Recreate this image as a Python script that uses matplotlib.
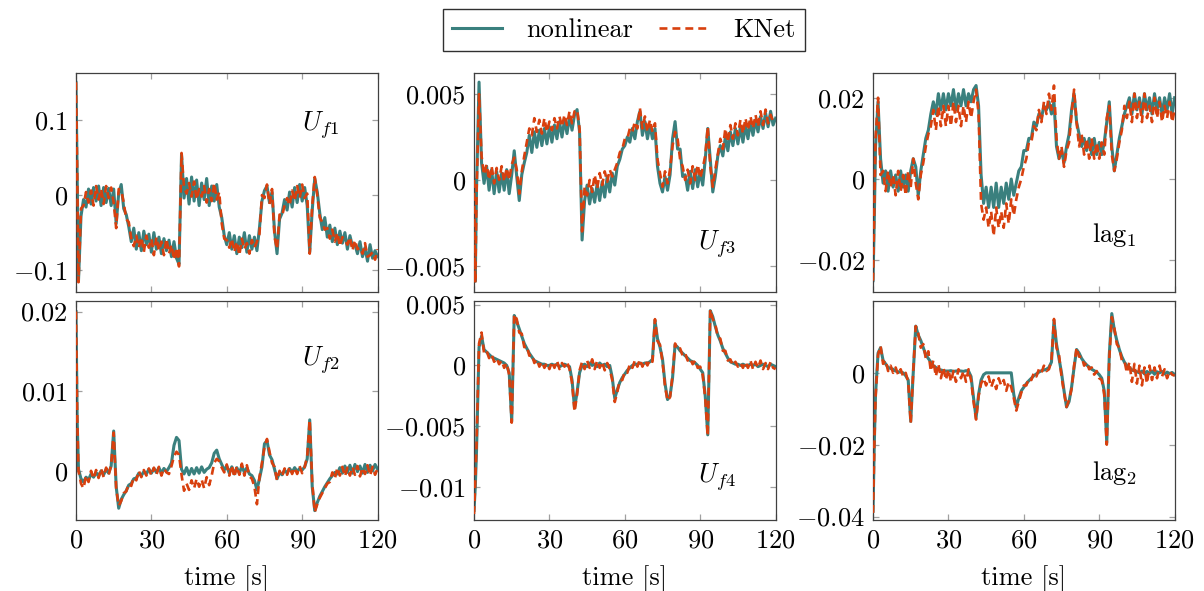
import numpy as np
import matplotlib
matplotlib.use("Agg")
import matplotlib.pyplot as plt
from matplotlib.lines import Line2D

plt.rcParams["font.family"] = "cmr10"
plt.rcParams["mathtext.fontset"] = "cm"
plt.rcParams["axes.unicode_minus"] = False

# time grid [s]
time = np.array([0.0, 0.5] + list(range(1, 121)), dtype=float)

# U_f1 (units of 1e-3)
uf1_nonlinear = np.array([
    150, 20,
    -114, -28, -6, -16, 8, -12, 10, -8, 12, -14,
    10, -10, 9, -14, 8, -38, 2, 14, -18, -26,
    -42, -62, -44, -72, -50, -74, -48, -66, -52, -76,
    -50, -72, -56, -78, -58, -74, -60, -82, -62, -84,
    -92, 54, -4, 22, -12, 24, -8, 20, -14, 16,
    -6, 22, -14, 12, -8, 14, -16, -30, -54, -66,
    -50, -72, -54, -78, -56, -70, -50, -76, -54, -72,
    -56, -74, -44, -8, 6, 12, -10, 4, -48, -78,
    -32, -24, -6, -20, 4, -16, 10, -10, 14, -8,
    10, -14, -76, -20, 22, 4, -24, -46, -30, -56,
    -40, -62, -44, -66, -48, -64, -50, -72, -54, -68,
    -66, -78, -62, -82, -70, -88, -66, -84, -74, -82]) * 1e-3
uf1_knet = np.array([
    150, 30,
    -116, -18, -14, 4, -10, 6, -14, 12, -6, 8,
    -12, 12, -4, 10, -10, -44, 8, 6, -10, -32,
    -36, -58, -68, -54, -70, -56, -76, -54, -70, -58,
    -80, -56, -74, -62, -80, -58, -78, -66, -86, -70,
    -95, 56, 10, 2, 16, -2, 18, -6, 8, -2,
    12, -10, 8, -8, 16, -6, 4, -38, -58, -60,
    -70, -58, -76, -62, -80, -58, -72, -64, -78, -60,
    -70, -62, -52, 0, -4, 14, -12, 8, -56, -72,
    -26, -28, -14, -4, -14, 6, -8, 12, -4, 14,
    -4, 2, -78, -14, 24, 0, -30, -36, -46, -44,
    -58, -46, -62, -50, -68, -56, -60, -66, -56, -74,
    -60, -72, -70, -78, -64, -82, -80, -76, -86, -72]) * 1e-3

# U_f3 (units of 1e-4)
uf3_nonlinear = np.array([
    0, -59,
    -5, 57, 10, -2, 8, -6, 6, -8, 5, -7,
    4, -6, 6, -8, 3, 17, 2, -12, 3, 10,
    16, 26, 16, 28, 19, 29, 20, 30, 21, 31,
    22, 32, 24, 34, 25, 35, 27, 37, 29, 38,
    41, 28, -35, -12, -3, -14, -5, -13, -2, -12,
    -1, -10, 2, -7, 4, -3, 8, 12, 18, 20,
    25, 22, 30, 24, 34, 40, 26, 34, 24, 32,
    24, 30, 8, -2, -7, 2, -6, 3, 24, 34,
    18, 18, 2, 3, -6, 5, -5, 6, -4, 5,
    -3, 12, 30, 12, -7, 2, 14, 20, 14, 25,
    17, 28, 20, 30, 21, 31, 22, 32, 24, 34,
    26, 35, 28, 37, 30, 39, 31, 40, 32, 36]) * 1e-4
uf3_knet = np.array([
    0, -60,
    -8, 50, 14, 3, 9, 0, 8, -2, 7, 0,
    8, -1, 7, 0, 9, 13, 6, -8, 5, 14,
    22, 30, 26, 36, 28, 35, 27, 36, 28, 34,
    29, 36, 30, 37, 31, 38, 32, 40, 33, 40,
    41, 30, -30, -4, -9, 0, -7, 3, -5, 4,
    -3, 5, -1, 6, 2, 6, 10, 16, 18, 24,
    24, 30, 28, 34, 30, 42, 30, 37, 28, 35,
    28, 33, 12, 4, -4, 5, -2, 6, 20, 28,
    24, 12, 8, 0, 6, -2, 8, 0, 9, 1,
    7, 14, 31, 8, -4, 6, 15, 24, 18, 30,
    22, 32, 24, 33, 26, 35, 27, 36, 29, 37,
    30, 38, 31, 40, 32, 41, 33, 38, 34, 35]) * 1e-4

# lag_1 (units of 1e-3)
lag1_nonlinear = np.array([
    -25, -10,
    8, 19, 5, -1, 2, -3, 2, -2, 1, -3,
    2, -2, 1, -3, 2, 5, 3, -4, 2, 6,
    10, 12, 16, 19, 16, 21, 17, 21, 17, 21,
    18, 22, 17, 21, 18, 22, 18, 21, 19, 22,
    23, 18, 1, -6, -2, -7, -2, -7, -1, -7,
    -2, -6, -1, -5, 0, -4, -1, 2, 3, 7,
    7, 10, 10, 14, 13, 16, 15, 18, 17, 19,
    16, 19, 8, 5, 7, 4, 8, 11, 17, 21,
    14, 11, 8, 10, 7, 10, 6, 10, 6, 9,
    6, 9, 14, 19, 8, 2, 6, 10, 13, 16,
    18, 20, 16, 21, 17, 20, 16, 21, 17, 20,
    16, 21, 17, 20, 16, 20, 17, 21, 16, 20]) * 1e-3
lag1_knet = np.array([
    -25, -8,
    10, 20, 1, 2, -3, 2, -2, 1, -4, 2,
    -3, 1, -4, 2, -2, 5, -1, -5, 1, 4,
    8, 11, 13, 17, 12, 18, 13, 18, 13, 18,
    13, 19, 14, 18, 13, 18, 14, 19, 15, 19,
    22, 16, -6, -10, -7, -12, -8, -14, -7, -12,
    -8, -12, -6, -11, -5, -9, -5, -2, 0, 3,
    5, 9, 9, 13, 12, 17, 14, 19, 16, 21,
    17, 23, 10, 5, 8, 3, 7, 9, 16, 22,
    14, 8, 11, 6, 10, 5, 10, 5, 9, 5,
    9, 6, 15, 18, 6, 2, 5, 9, 12, 18,
    15, 19, 14, 21, 15, 19, 14, 21, 15, 18,
    14, 20, 15, 19, 14, 18, 15, 19, 14, 17]) * 1e-3

# U_f2 (units of 1e-4)
uf2_nonlinear = np.array([
    200, 60,
    2, -10, -14, -8, -11, -4, -8, -2, -7, 0,
    -5, 2, -3, 6, 50, -20, -47, -36, -30, -25,
    -18, -16, -10, -9, -3, -6, -1, -4, 2, -3,
    3, -2, 4, -3, 3, -1, 4, 10, 32, 42,
    38, 2, -4, 4, -5, 3, -4, 4, -3, 5,
    -2, 2, 4, 10, 22, 26, 15, 8, 1, 6,
    -3, 5, -4, 4, -3, 6, -2, 4, -4, -6,
    -12, -24, -10, 5, 34, 38, 20, 14, 2, -10,
    -2, -5, 1, -3, 3, -2, 4, -1, 3, 1,
    5, 15, 64, -20, -50, -40, -32, -26, -20, -15,
    -10, -6, -2, -4, 4, -3, 6, -2, 7, -3,
    8, -1, 6, -3, 8, -2, 7, 0, 8, 2]) * 1e-4
uf2_knet = np.array([
    200, 70,
    0, -16, -22, -6, -14, 0, -10, 1, -9, 3,
    -8, 4, -5, 7, 48, -22, -44, -38, -28, -26,
    -16, -19, -8, -12, 0, -8, 1, -6, 3, -6,
    4, -5, 5, -6, 3, -2, -4, 6, 18, 24,
    20, -5, -25, -16, -24, -12, -22, -10, -20, -11,
    -22, -8, -18, -6, 10, 15, 12, 4, -2, 8,
    -6, 7, -8, 6, -5, 9, -6, 7, -7, -10,
    -20, -42, -8, 10, 30, 40, 24, 10, 5, -12,
    0, -7, 3, -5, 5, -4, 4, -4, 6, -3,
    5, 18, 64, -15, -52, -42, -34, -28, -22, -16,
    -14, -2, -10, 4, -6, 5, -7, 4, -6, 5,
    -5, 6, -7, 4, -4, 7, -6, 5, -5, 3]) * 1e-4

# U_f4 (units of 1e-4)
uf4_nonlinear = np.array([
    -119, -100,
    -70, 15, 24, 13, 11, 9, 7, 6, 5, 4,
    3, 2, 0, -6, -46, 41, 36, 30, 24, 18,
    14, 10, 7, 4, 3, 2, 1, 1, 0, 0,
    1, 0, 1, -1, 0, 1, 0, -1, -12, -35,
    -22, -6, 0, 1, -1, 2, 0, 1, -1, 2,
    0, 1, -1, 0, -10, -27, -20, -14, -10, -7,
    -4, -2, 0, 1, 1, 2, 1, 2, 2, 3,
    5, 37, 22, 15, 5, -15, -28, -25, -10, 17,
    15, 12, 10, 8, 6, 4, 3, 2, 0, -3,
    -6, -25, -57, 45, 40, 32, 25, 20, 14, 10,
    6, 3, 2, 1, 1, 0, 1, 0, 0, 1,
    0, 1, -1, 0, 1, 0, -1, 1, 0, -1]) * 1e-4
uf4_knet = np.array([
    -122, -95,
    -65, 18, 27, 10, 12, 6, 9, 3, 6, 1,
    4, -2, 2, -8, -47, 42, 38, 27, 26, 15,
    16, 8, 9, 2, 5, -1, 3, -2, 2, -3,
    3, -2, 4, -3, 2, -1, 3, -3, -14, -38,
    -24, -4, 3, -3, 4, -2, 5, -3, 4, -2,
    3, -4, 2, -3, -12, -30, -22, -12, -12, -5,
    -6, 1, -2, 4, -1, 5, -1, 4, 0, 5,
    3, 38, 20, 17, 3, -17, -29, -26, -8, 18,
    13, 14, 8, 10, 4, 6, 1, 4, -2, -1,
    -8, -27, -58, 46, 38, 34, 23, 22, 12, 12,
    4, 5, 0, 3, -1, 2, -2, 3, -2, 4,
    -3, 3, -2, 4, -3, 2, -3, 3, -2, -3]) * 1e-4

# lag_2 (units of 1e-3)
lag2_nonlinear = np.array([
    -38.5, -20.0,
    -6.0, 5.5, 7.0, 3.5, 2.5, 1.5, 1.2, 1.0, 0.5, 0.3,
    0.2, 0.0, -0.8, -2.0, -13.5, 0.0, 13.0, 10.5, 9.0, 7.0,
    5.0, 4.0, 3.0, 2.0, 1.5, 1.0, 0.8, 0.6, 0.5, 0.5,
    0.6, 0.4, 0.5, 0.6, 0.5, 0.4, 0.6, 0.5, -1.0, -7.0,
    -12.5, -6.0, -2.0, -0.5, 0.0, 0.0, 0.0, 0.0, 0.0, 0.0,
    0.0, 0.0, 0.0, 0.0, 0.0, -6.0, -9.5, -7.0, -5.0, -4.0,
    -3.0, -2.2, -1.5, -0.8, -0.3, 0.2, 0.6, 0.8, 1.0, 1.5,
    3.0, 14.5, 8.0, 4.0, 0.0, -5.0, -9.5, -8.0, -4.0, 1.5,
    6.5, 5.5, 4.0, 3.0, 2.2, 1.6, 1.0, 0.6, 0.2, -0.5,
    -1.5, -5.0, -19.5, 5.0, 16.5, 12.0, 9.0, 6.5, 4.5, 3.0,
    2.0, 1.5, 0.8, 0.5, 0.3, 0.0, 0.5, -0.3, 0.4, -0.2,
    0.5, -0.4, 0.3, 0.0, 0.4, -0.3, 0.2, -0.2, 0.1, -0.5]) * 1e-3
lag2_knet = np.array([
    -39.0, -21.0,
    -7.0, 5.0, 7.5, 2.5, 3.5, 0.5, 2.0, 0.0, 1.5, -0.5,
    1.0, -1.0, 0.0, -2.5, -14.0, 0.5, 13.0, 11.0, 7.0, 8.0,
    4.0, 6.0, 0.5, 3.5, -1.0, 2.5, -1.5, 1.5, -2.0, 1.0,
    -2.5, 0.5, -2.5, 1.0, -1.5, 0.5, -2.5, 1.0, -2.0, -8.0,
    -13.0, -6.5, -3.0, -1.5, -3.5, -1.0, -4.0, -2.0, -4.5, -1.5,
    -3.5, -2.0, -5.0, -2.5, -4.0, -7.0, -10.5, -8.0, -5.5, -3.5,
    -3.5, -1.5, -2.0, 0.0, -1.0, 1.0, 0.0, 2.0, 0.5, 1.0,
    3.5, 15.0, 7.0, 5.0, -1.0, -5.5, -9.5, -7.5, -4.5, 2.0,
    7.0, 4.5, 4.5, 2.0, 3.0, 1.0, 1.5, -0.5, 0.5, -1.5,
    -2.0, -6.0, -20.0, 4.0, 15.5, 12.5, 8.0, 7.0, 3.5, 3.5,
    0.0, 3.0, -2.5, 2.5, -3.0, 2.0, -3.5, 1.5, -3.0, 2.0,
    -2.0, 1.5, -1.5, 2.0, -1.0, 1.0, -1.5, 0.5, -0.5, -0.8]) * 1e-3

x_ticks = [0, 30, 60, 90, 120]
x_ticklabels = ["$0$", "$30$", "$60$", "$90$", "$120$"]

panels = [
    # (row, col, nonlinear, knet, label, label_xy, yticks, yticklabels, ylim)
    (0, 0, uf1_nonlinear, uf1_knet, r"$U_{f1}$", (0.81, 0.76),
     [-0.1, 0.0, 0.1], ["$-0.1$", "$0$", "$0.1$"], (-0.129, 0.163)),
    (0, 1, uf3_nonlinear, uf3_knet, r"$U_{f3}$", (0.805, 0.22),
     [-0.005, 0.0, 0.005], ["$-0.005$", "$0$", "$0.005$"], (-0.00653, 0.00626)),
    (0, 2, lag1_nonlinear, lag1_knet, r"$\mathrm{lag}_1$", (0.80, 0.26),
     [-0.02, 0.0, 0.02], ["$-0.02$", "$0$", "$0.02$"], (-0.0278, 0.0262)),
    (1, 0, uf2_nonlinear, uf2_knet, r"$U_{f2}$", (0.81, 0.73),
     [0.0, 0.01, 0.02], ["$0$", "$0.01$", "$0.02$"], (-0.00624, 0.02133)),
    (1, 1, uf4_nonlinear, uf4_knet, r"$U_{f4}$", (0.805, 0.20),
     [-0.01, -0.005, 0.0, 0.005], ["$-0.01$", "$-0.005$", "$0$", "$0.005$"], (-0.01273, 0.00529)),
    (1, 2, lag2_nonlinear, lag2_knet, r"$\mathrm{lag}_2$", (0.80, 0.215),
     [-0.04, -0.02, 0.0], ["$-0.04$", "$-0.02$", "$0$"], (-0.0411, 0.0200)),
]

TEAL = "#3a807e"
RED = "#d8400e"
FS = 19
TEAL_LW = 2.2
RED_LW = 1.9
RED_DASH = (3.0, 1.9)

fig = plt.figure(figsize=(12.04, 5.91), dpi=100)
lefts = [0.0631, 0.3937, 0.7251]
bottoms = [0.5059, 0.1193]
width, height = 0.2505, 0.3714

for row, col, nl, kn, label, lxy, yt, ytl, ylim in panels:
    ax = fig.add_axes([lefts[col], bottoms[row], width, height])
    ax.plot(time, nl, color=TEAL, lw=TEAL_LW, solid_joinstyle="round", zorder=2)
    ax.plot(time, kn, color=RED, lw=RED_LW, dashes=RED_DASH, zorder=3)
    ax.set_xlim(0, 120)
    ax.set_ylim(*ylim)
    ax.set_xticks(x_ticks)
    ax.set_yticks(yt)
    ax.set_yticklabels(ytl)
    if row == 1:
        ax.set_xticklabels(x_ticklabels)
        ax.set_xlabel("time [s]", fontsize=FS, labelpad=9)
    else:
        ax.set_xticklabels([])
    ax.tick_params(direction="in", length=4.5, width=0.9, color="#a0a0a0",
                   top=True, right=True, labelsize=FS, pad=6)
    for sp in ax.spines.values():
        sp.set_color("#404040")
        sp.set_linewidth(0.9)
    ax.text(lxy[0], lxy[1], label, transform=ax.transAxes, fontsize=FS,
            ha="center", va="center")

handles = [Line2D([], [], color=TEAL, lw=TEAL_LW),
           Line2D([], [], color=RED, lw=RED_LW, dashes=RED_DASH)]
fig.legend(handles, ["nonlinear", "KNet"], loc="upper center",
           bbox_to_anchor=(624 / 1204, 1 - 9 / 591), ncol=2, fontsize=FS,
           frameon=True, fancybox=False, edgecolor="#303030", framealpha=1,
           handlelength=1.9, handletextpad=0.9, columnspacing=1.0,
           borderpad=0.35, borderaxespad=0.0)

fig.savefig("out.png", dpi=100)
